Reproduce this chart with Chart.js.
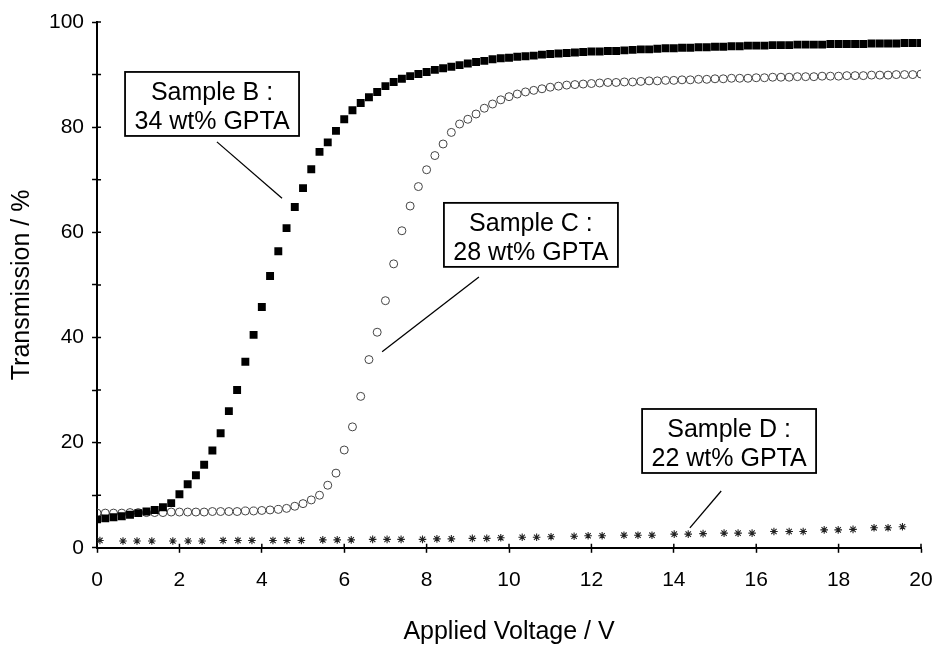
<!DOCTYPE html>
<html>
<head>
<meta charset="utf-8">
<script src="https://cdn.jsdelivr.net/npm/chart.js@4.4.1/dist/chart.umd.min.js"></script>
<style>
  html, body { margin: 0; padding: 0; background: #fff; }
  #wrap { width: 937px; height: 647px; }
</style>
</head>
<body>
<div id="wrap"><canvas id="chart" width="937" height="647"></canvas></div>
<script>
// Applied voltage (V) for samples B and C
const volts = [
  0, 0.2, 0.4, 0.6, 0.8, 1, 1.2, 1.4, 1.6, 1.8,
  2, 2.2, 2.4, 2.6, 2.8, 3, 3.2, 3.4, 3.6, 3.8,
  4, 4.2, 4.4, 4.6, 4.8, 5, 5.2, 5.4, 5.6, 5.8,
  6, 6.2, 6.4, 6.6, 6.8, 7, 7.2, 7.4, 7.6, 7.8,
  8, 8.2, 8.4, 8.6, 8.8, 9, 9.2, 9.4, 9.6, 9.8,
  10, 10.2, 10.4, 10.6, 10.8, 11, 11.2, 11.4, 11.6, 11.8,
  12, 12.2, 12.4, 12.6, 12.8, 13, 13.2, 13.4, 13.6, 13.8,
  14, 14.2, 14.4, 14.6, 14.8, 15, 15.2, 15.4, 15.6, 15.8,
  16, 16.2, 16.4, 16.6, 16.8, 17, 17.2, 17.4, 17.6, 17.8,
  18, 18.2, 18.4, 18.6, 18.8, 19, 19.2, 19.4, 19.6, 19.8,
  20
];

// Sample B : 34 wt% GPTA (transmission %)
const sampleB = [
  5.4, 5.6, 5.8, 6.0, 6.3, 6.6, 6.9, 7.2, 7.7, 8.5,
  10.2, 12.1, 13.8, 15.8, 18.5, 21.8, 26.0, 30.0, 35.4, 40.5,
  45.8, 51.7, 56.4, 60.8, 64.8, 68.4, 72.0, 75.3, 77.1, 79.3,
  81.5, 83.2, 84.6, 85.7, 86.7, 87.8, 88.6, 89.2, 89.7, 90.1,
  90.5, 90.9, 91.2, 91.5, 91.8, 92.1, 92.4, 92.6, 92.9, 93.1,
  93.2, 93.4, 93.5, 93.6, 93.8, 93.9, 94.0, 94.1, 94.2, 94.3,
  94.4, 94.4, 94.5, 94.5, 94.6, 94.7, 94.8, 94.8, 94.9, 95.0,
  95.0, 95.1, 95.1, 95.2, 95.2, 95.3, 95.3, 95.4, 95.4, 95.5,
  95.5, 95.5, 95.6, 95.6, 95.6, 95.7, 95.7, 95.7, 95.7, 95.8,
  95.8, 95.8, 95.8, 95.8, 95.9, 95.9, 95.9, 95.9, 96.0, 96.0,
  96.0
];

// Sample C : 28 wt% GPTA
const sampleC = [
  6.6, 6.6, 6.6, 6.6, 6.7, 6.7, 6.7, 6.7, 6.7, 6.8,
  6.8, 6.8, 6.8, 6.8, 6.9, 6.9, 6.9, 6.9, 7.0, 7.0,
  7.1, 7.2, 7.3, 7.5, 7.9, 8.4, 9.1, 10.0, 11.9, 14.2,
  18.6, 23.0, 28.8, 35.8, 41.0, 47.0, 54.0, 60.3, 65.0, 68.7,
  71.9, 74.6, 76.8, 79.0, 80.6, 81.5, 82.5, 83.6, 84.4, 85.2,
  85.8, 86.3, 86.7, 87.0, 87.3, 87.6, 87.8, 88.0, 88.1, 88.2,
  88.3, 88.4, 88.5, 88.5, 88.6, 88.6, 88.7, 88.8, 88.8, 88.9,
  88.9, 89.0, 89.0, 89.1, 89.1, 89.2, 89.2, 89.3, 89.3, 89.3,
  89.4, 89.4, 89.5, 89.5, 89.5, 89.6, 89.6, 89.6, 89.7, 89.7,
  89.7, 89.8, 89.8, 89.8, 89.9, 89.9, 89.9, 90.0, 90.0, 90.0,
  90.1
];

// Sample D : 22 wt% GPTA (sampled on its own voltage grid)
const voltsD = [
  0.07, 0.63, 0.97, 1.33, 1.84, 2.21, 2.55, 3.06, 3.42, 3.76,
  4.27, 4.61, 4.96, 5.48, 5.83, 6.17, 6.69, 7.04, 7.38, 7.9,
  8.25, 8.6, 9.11, 9.46, 9.8, 10.32, 10.67, 11.02, 11.58, 11.92,
  12.26, 12.79, 13.13, 13.47, 14.01, 14.35, 14.71, 15.22, 15.56, 15.9,
  16.43, 16.8, 17.14, 17.65, 17.99, 18.35, 18.86, 19.2, 19.55
];
const sampleD = [
  1.4, 1.3, 1.3, 1.3, 1.3, 1.3, 1.3, 1.4, 1.4, 1.4,
  1.4, 1.4, 1.4, 1.5, 1.5, 1.5, 1.6, 1.6, 1.6, 1.6,
  1.7, 1.7, 1.8, 1.8, 1.9, 2.0, 2.0, 2.1, 2.2, 2.3,
  2.3, 2.4, 2.4, 2.4, 2.6, 2.6, 2.7, 2.8, 2.8, 2.8,
  3.1, 3.1, 3.1, 3.4, 3.4, 3.5, 3.8, 3.8, 4.0
];

const xTicks = [0, 2, 4, 6, 8, 10, 12, 14, 16, 18, 20];
const yTicks = [0, 20, 40, 60, 80, 100];

// Callouts: box anchor (top-left) and leader line, in data units
const callouts = [
  { lines: ['Sample B :', '34 wt% GPTA'], x: 0.68, y: 90.5, from: [2.91, 77.2], to: [4.49, 66.5] },
  { lines: ['Sample C :', '28 wt% GPTA'], x: 8.42, y: 65.6, from: [9.27, 51.5], to: [6.92, 37.3] },
  { lines: ['Sample D :', '22 wt% GPTA'], x: 13.23, y: 26.4, from: [15.15, 10.8], to: [14.39, 3.8] }
];

const FONT = "'Liberation Sans', Arial, Helvetica, sans-serif";

function toPoints(xs, ys) {
  return xs.map((x, i) => ({ x: x, y: ys[i] }));
}

// Draws the inner half of the tick marks and the callout boxes
const calloutPlugin = {
  id: 'callouts',
  afterDraw(chart) {
    const ctx = chart.ctx;
    const xs = chart.scales.x;
    const ys = chart.scales.y;
    const area = chart.chartArea;
    ctx.save();
    ctx.strokeStyle = '#000';
    ctx.lineWidth = 1.5;
    ctx.beginPath();
    xs.ticks.forEach(t => {
      const px = xs.getPixelForValue(t.value);
      ctx.moveTo(px, area.bottom);
      ctx.lineTo(px, area.bottom - 4);
    });
    ys.ticks.forEach(t => {
      const py = ys.getPixelForValue(t.value);
      ctx.moveTo(area.left, py);
      ctx.lineTo(area.left + 4, py);
    });
    ctx.stroke();

    const boxW = 174, boxH = 64;
    callouts.forEach(c => {
      const left = xs.getPixelForValue(c.x);
      const top = ys.getPixelForValue(c.y);
      ctx.lineWidth = 1.3;
      ctx.beginPath();
      ctx.moveTo(xs.getPixelForValue(c.from[0]), ys.getPixelForValue(c.from[1]));
      ctx.lineTo(xs.getPixelForValue(c.to[0]), ys.getPixelForValue(c.to[1]));
      ctx.stroke();
      ctx.fillStyle = '#fff';
      ctx.fillRect(left, top, boxW, boxH);
      ctx.lineWidth = 1.8;
      ctx.strokeRect(left, top, boxW, boxH);
      ctx.fillStyle = '#000';
      ctx.font = '25px ' + FONT;
      ctx.textAlign = 'center';
      ctx.textBaseline = 'alphabetic';
      ctx.fillText(c.lines[0], left + boxW / 2, top + 28);
      ctx.fillText(c.lines[1], left + boxW / 2, top + 57);
    });
    ctx.restore();
  }
};

new Chart(document.getElementById('chart'), {
  type: 'scatter',
  data: {
    datasets: [
      {
        label: 'Sample B',
        data: toPoints(volts, sampleB),
        pointStyle: 'rect',
        pointRadius: 5.6,
        backgroundColor: '#000',
        borderColor: '#000',
        borderWidth: 0
      },
      {
        label: 'Sample C',
        data: toPoints(volts, sampleC),
        pointStyle: 'circle',
        pointRadius: 4,
        backgroundColor: 'rgba(255,255,255,0)',
        borderColor: '#444',
        borderWidth: 1
      },
      {
        label: 'Sample D',
        data: toPoints(voltsD, sampleD),
        pointStyle: 'star',
        pointRadius: 3.8,
        backgroundColor: '#222',
        borderColor: '#222',
        borderWidth: 1.1
      }
    ]
  },
  options: {
    responsive: false,
    animation: false,
    layout: { padding: { left: 0, top: 22, right: 4, bottom: 0 } },
    plugins: {
      legend: { display: false },
      tooltip: { enabled: false }
    },
    scales: {
      x: {
        type: 'linear',
        min: 0,
        max: 20,
        afterBuildTicks: axis => { axis.ticks = xTicks.map(v => ({ value: v })); },
        afterFit: axis => { axis.paddingRight = 16; axis.paddingLeft = 0; },
        grid: { drawOnChartArea: false, drawTicks: true, tickLength: 5, tickColor: '#000', tickWidth: 1.5 },
        border: { color: '#000', width: 2 },
        ticks: { color: '#000', font: { family: FONT, size: 21 }, padding: 15, maxRotation: 0, autoSkip: false },
        title: {
          display: true,
          text: 'Applied Voltage / V',
          color: '#000',
          font: { family: FONT, size: 25 },
          padding: { top: 9, bottom: 0 }
        }
      },
      y: {
        type: 'linear',
        min: 0,
        max: 100,
        ticks: {
          stepSize: 10,
          autoSkip: false,
          color: '#000',
          font: { family: FONT, size: 21 },
          padding: 8,
          callback: v => (yTicks.includes(v) ? String(v) : '')
        },
        grid: { drawOnChartArea: false, drawTicks: true, tickLength: 5, tickColor: '#000', tickWidth: 1.5 },
        border: { color: '#000', width: 2 },
        title: {
          display: true,
          text: 'Transmission / %',
          color: '#000',
          font: { family: FONT, size: 25 },
          padding: { top: 7, bottom: 4 }
        }
      }
    }
  },
  plugins: [calloutPlugin]
});
</script>
</body>
</html>
